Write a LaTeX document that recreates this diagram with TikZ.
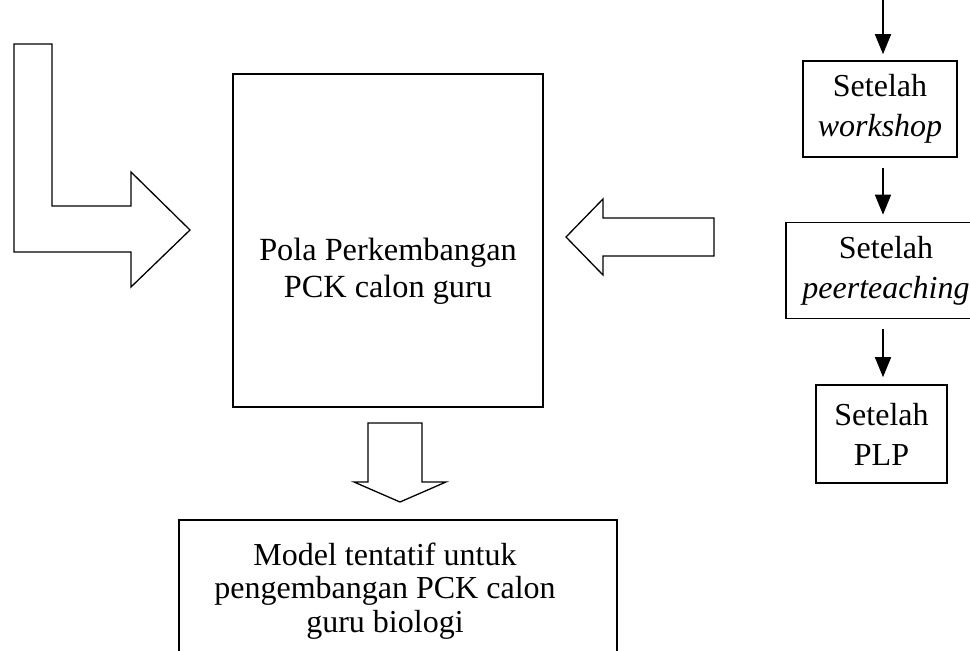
\documentclass[tikz,border=0pt]{standalone}
\usepackage{fontspec}
\setmainfont{Liberation Serif}
\usetikzlibrary{arrows.meta}
\begin{document}
\begin{tikzpicture}[x=1pt,y=-1pt,
  txt/.style={align=center, inner sep=0pt, font=\fontsize{32.3}{37}\selectfont},
  frame/.style={draw, line width=2pt, inner sep=0pt},
  stagebox/.style={draw, line width=1.6pt, inner sep=0pt, align=center,
    font=\fontsize{32}{40}\selectfont},
  flow/.style={line width=1.5pt, -{Triangle[width=16pt,length=20pt]}},
  blk/.style={draw, line width=1.3pt, line join=miter}]
\useasboundingbox (0,0) rectangle (970,651);

% main box
\node[frame, minimum width=310pt, minimum height=333pt] (pola) at (388,240.5) {};
\node[txt] (polatext) at (388,271) {Pola Perkembangan\\PCK calon guru};

% bottom box
\node[frame, line width=1.8pt, minimum width=438pt, minimum height=170pt] (model) at (398,605) {};
\node[txt, font=\fontsize{32}{33.5}\selectfont] (modeltext) at (385,591) {Model tentatif untuk\\pengembangan PCK calon\\guru biologi};

% right column
\coordinate (top) at (883,0);
\node[stagebox, minimum width=154pt, minimum height=96pt] (ws) at (880,109) {Setelah\\\textit{workshop}};
\node[stagebox, minimum width=200pt, minimum height=96pt] (pt) at (886,270.5) {Setelah\\\textit{peerteaching}};
\node[stagebox, minimum width=131pt, minimum height=98pt] (plp) at (881.5,434) {Setelah\\PLP};

\draw[flow, shorten >=6pt] (top) -- (top |- ws.north);
\draw[flow, shorten <=10pt, shorten >=7pt] (ws.south -| top) -- (pt.north -| top);
\draw[flow, shorten <=10pt, shorten >=7pt] (pt.south -| top) -- (plp.north -| top);

% L-shaped block arrow
\draw[blk] (14,44) -- (52,44) -- (52,206) -- (131,206) -- (131,172) -- (190,230)
  -- (131,287) -- (131,252) -- (14,252) -- cycle;
% left-pointing block arrow
\draw[blk] (714,218) -- (603,218) -- (603,199) -- (566,237) -- (603,275)
  -- (603,256) -- (714,256) -- cycle;
% down-pointing block arrow
\draw[blk] (368,423) -- (422,423) -- (422,482) -- (446,482) -- (400,502)
  -- (354,482) -- (368,482) -- cycle;
\end{tikzpicture}
\end{document}
